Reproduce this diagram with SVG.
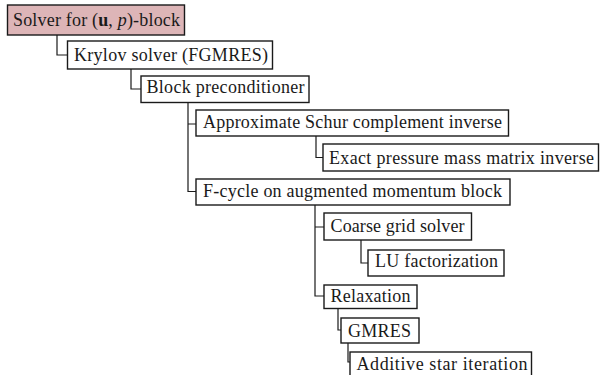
<svg xmlns="http://www.w3.org/2000/svg" width="600" height="375" viewBox="0 0 600 375">
  <style>
    .box { fill: #ffffff; stroke: #1a1a1a; stroke-width: 1.4; }
    .root { fill: #ddb5b7; }
    .link { fill: none; stroke: #1a1a1a; stroke-width: 1.2; }
  </style>
  <rect width="600" height="375" fill="#ffffff"/>

  <!-- tree connectors -->
  <g id="connectors">
    <path class="link" d="M57,35 V55 H67.5"/>
    <path class="link" d="M131,69 V89 H141"/>
    <path class="link" d="M188,102.5 V191.5 H196 M188,124 H196"/>
    <path class="link" d="M316,136 V157.5 H323"/>
    <path class="link" d="M315,205 V296 H324 M315,227 H324"/>
    <path class="link" d="M361,240 V263 H368"/>
    <path class="link" d="M338,308.5 V330 H341"/>
    <path class="link" d="M348,343 V362 H350"/>
  </g>

  <!-- nodes; labels share one serif face -->
  <g font-family="Liberation Serif, Times New Roman, serif" font-size="18" fill="#1a1a1a">
    <g id="solver-up">
      <rect class="box root" x="7.5" y="5" width="177" height="30"/>
      <text x="13" y="26" textLength="167" lengthAdjust="spacing">Solver for (<tspan font-weight="bold">u</tspan>, <tspan font-style="italic">p</tspan>)-block</text>
    </g>
    <g id="krylov">
      <rect class="box" x="67.5" y="41" width="205" height="28"/>
      <text x="74" y="61" textLength="194" lengthAdjust="spacing">Krylov solver (FGMRES)</text>
    </g>
    <g id="block-prec">
      <rect class="box" x="141" y="76" width="168" height="26.5"/>
      <text x="146.5" y="93" textLength="158" lengthAdjust="spacing">Block preconditioner</text>
    </g>
    <g id="schur">
      <rect class="box" x="196" y="110" width="312.5" height="26"/>
      <text x="203" y="128" textLength="299" lengthAdjust="spacing">Approximate Schur complement inverse</text>
    </g>
    <g id="pressure-mass">
      <rect class="box" x="323" y="144" width="275.5" height="27"/>
      <text x="329" y="163.5" textLength="265" lengthAdjust="spacing">Exact pressure mass matrix inverse</text>
    </g>
    <g id="fcycle">
      <rect class="box" x="196" y="179" width="314" height="26"/>
      <text x="203" y="196.5" textLength="299" lengthAdjust="spacing">F-cycle on augmented momentum block</text>
    </g>
    <g id="coarse">
      <rect class="box" x="324" y="213" width="147.5" height="27"/>
      <text x="330.5" y="232" textLength="134" lengthAdjust="spacing">Coarse grid solver</text>
    </g>
    <g id="lu">
      <rect class="box" x="368" y="250" width="136" height="26"/>
      <text x="375" y="267" textLength="123" lengthAdjust="spacing">LU factorization</text>
    </g>
    <g id="relaxation">
      <rect class="box" x="324" y="285" width="93" height="23.5"/>
      <text x="330.5" y="302" textLength="80" lengthAdjust="spacing">Relaxation</text>
    </g>
    <g id="gmres">
      <rect class="box" x="341" y="318" width="78" height="25"/>
      <text x="348" y="336.5" textLength="63" lengthAdjust="spacing">GMRES</text>
    </g>
    <g id="star">
      <rect class="box" x="350" y="352" width="181.5" height="30"/>
      <text x="356.5" y="370" textLength="171" lengthAdjust="spacing">Additive star iteration</text>
    </g>
  </g>
</svg>
